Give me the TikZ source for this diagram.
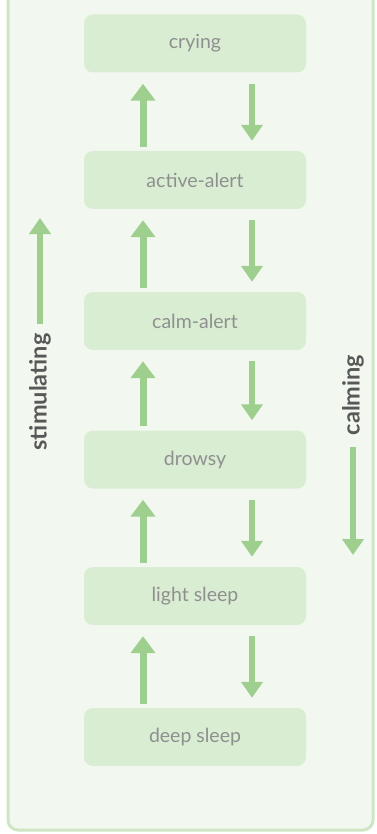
\documentclass[tikz,border=0pt]{standalone}
\usepackage{fontspec}
\setmainfont{Lato}
\usetikzlibrary{arrows.meta}

\definecolor{panelbg}{HTML}{F2F8EF}
\definecolor{panelline}{HTML}{CFE6C6}
\definecolor{boxfill}{HTML}{D9EDD3}
\definecolor{arrowgreen}{HTML}{9ECF8E}
\definecolor{boxtext}{HTML}{8F8F8F}
\definecolor{labeltext}{HTML}{585858}

\tikzset{
  statebox/.style={fill=boxfill, rounded corners=9pt, minimum width=222pt,
    minimum height=58pt, inner sep=0pt, text=boxtext, font=\fontsize{19.5}{22}\selectfont},
  uparrow/.style={draw=arrowgreen, line width=7pt,
    -{Triangle[width=24pt,length=17pt]}},
  downarrow/.style={draw=arrowgreen, line width=6pt,
    -{Triangle[width=21pt,length=16pt]}},
  sidelabel/.style={rotate=90, inner sep=0pt, text=labeltext,
    font=\bfseries\fontsize{23.5}{26}\selectfont},
}

\begin{document}
\begin{tikzpicture}[x=1pt,y=-1pt]
    \useasboundingbox (0,0) rectangle (376,834);
    \fill [white] (0,0) rectangle (376,834);
    % panel
    \draw [panelline, fill=panelbg, line width=3pt, rounded corners=10pt]
        (8,-20) rectangle (373,830);
    % states
    \node [statebox] (crying) at (195,43.5) {crying};
    \node [statebox] (activealert) at (195,180) {active-alert};
    \node [statebox] (calmalert) at (195,321) {calm-alert};
    \node [statebox] (drowsy) at (195,459.5) {drowsy};
    \node [statebox] (lightsleep) at (195,596) {light sleep};
    \node [statebox] (deepsleep) at (195,737) {deep sleep};
    % transitions
    \foreach \lower/\upper in {activealert/crying, calmalert/activealert,
        drowsy/calmalert, lightsleep/drowsy, deepsleep/lightsleep} {
        \draw [uparrow, shorten <=4pt, shorten >=11pt]
            ([xshift=-52pt]\lower.north) -- ([xshift=-52pt]\upper.south);
        \draw [downarrow, shorten <=11pt, shorten >=10pt]
            ([xshift=57pt]\upper.south) -- ([xshift=57pt]\lower.north);
    }
    % side labels
    \node [sidelabel] (stim) at (40,392) {stimulating};
    \coordinate (stimtip) at (40,218);
    \draw [downarrow, shorten <=9pt] (stim.east) -- (stimtip);
    \node [sidelabel] (calm) at (353,395) {calming};
    \coordinate (calmtip) at (353,555);
    \draw [downarrow, shorten <=12pt] (calm.west) -- (calmtip);
\end{tikzpicture}
\end{document}
